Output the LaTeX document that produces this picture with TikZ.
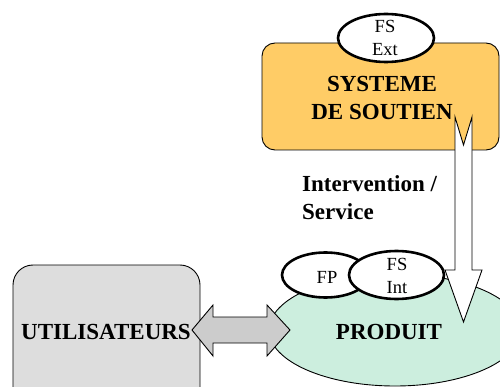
\documentclass[tikz,border=0pt]{standalone}
\usepackage{fontspec}
\setmainfont{Liberation Serif}
\usetikzlibrary{shapes.geometric}
\definecolor{sysorange}{RGB}{255,204,102}
\definecolor{prodgreen}{RGB}{204,238,222}
\definecolor{usergray}{RGB}{221,221,221}
\definecolor{arrowgray}{RGB}{204,204,204}
\begin{document}
\begin{tikzpicture}[x=1pt,y=-1pt,
  boxshape/.style={draw=black,line width=0.9pt,rounded corners=13pt,inner sep=0pt},
  fsellipse/.style={ellipse,draw=black,line width=2.6pt,fill=white,inner sep=0pt},
  bigtxt/.style={font=\fontsize{23}{27}\selectfont\bfseries,anchor=base,inner sep=0pt},
  smalltxt/.style={font=\fontsize{18.5}{22}\selectfont,anchor=base,inner sep=0pt},
  outline/.style={draw=black,line width=0.9pt,line join=miter}]
\useasboundingbox (0,0) rectangle (500,387);
\clip (0,0) rectangle (500,387);
% shapes
\node[boxshape,fill=sysorange,minimum width=237pt,minimum height=107pt] (sys) at (380.5,96.5) {};
\node[boxshape,fill=usergray,minimum width=187pt,minimum height=150pt,rounded corners=20pt] (usr) at (106.5,340) {};
\node[ellipse,draw=black,line width=0.9pt,fill=prodgreen,minimum width=252pt,minimum height=112pt,inner sep=0pt] (prod) at (395,330) {};
\node[fsellipse,minimum width=96pt,minimum height=48pt] (fsext) at (386,38) {};
\node[fsellipse,minimum width=87pt,minimum height=45pt] (fp) at (325.5,275) {};
\node[fsellipse,minimum width=95pt,minimum height=48pt] (fsint) at (396.5,275) {};
% arrows
\draw[outline,fill=white] (455,117) -- (463.5,145) -- (472,117) -- (472,270) -- (482,270)
  -- (463.5,322) -- (445,270) -- (455,270) -- cycle;
\draw[outline,fill=arrowgray] (192,330) -- (213,305) -- (213,317) -- (267,317) -- (267,305)
  -- (290,330) -- (267,356) -- (267,343) -- (213,343) -- (213,356) -- cycle;
% texts
\node[bigtxt] (t1) at (382,92) {SYSTEME};
\node[bigtxt] (t2) at (382,120) {DE SOUTIEN};
\node[bigtxt,anchor=base west] (t3) at (302,192) {Intervention /};
\node[bigtxt,anchor=base west] (t4) at (302,219) {Service};
\node[bigtxt] (t5) at (389,339) {PRODUIT};
\node[bigtxt] (t6) at (106,339) {UTILISATEURS};
\node[smalltxt] (t7) at (385,33) {FS};
\node[smalltxt] (t8) at (385,56) {Ext};
\node[smalltxt] (t9) at (327,283) {FP};
\node[smalltxt] (t10) at (397,270) {FS};
\node[smalltxt] (t11) at (397,293) {Int};
\end{tikzpicture}
\end{document}
